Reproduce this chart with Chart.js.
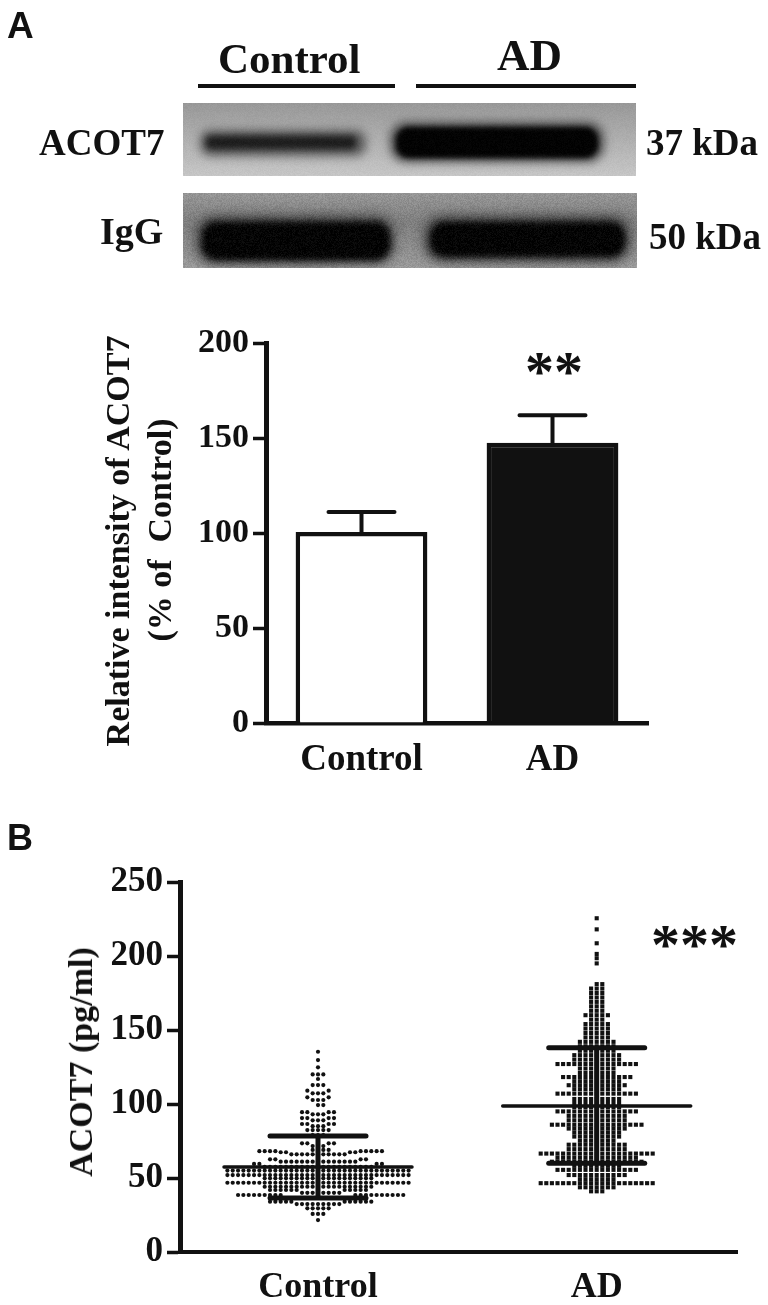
<!DOCTYPE html>
<html>
<head>
<meta charset="utf-8">
<title>ACOT7</title>
<script src="https://cdn.jsdelivr.net/npm/chart.js@4"></script>
<style>
html, body { margin: 0; padding: 0; background: #fff; }
#page { position: relative; width: 768px; height: 1305px; overflow: hidden; }
canvas { position: absolute; left: 0; }
.lbl { position: absolute; font-family: "Liberation Serif", serif; font-weight: bold; color: #111; white-space: nowrap; line-height: 1; }
.axis-title { position: absolute; font-family: "Liberation Serif", serif; font-weight: bold; font-size: 34px; color: #111; white-space: nowrap; line-height: 1; transform: translate(-50%, -50%) rotate(-90deg); z-index: 2; }
.letter { position: absolute; font-family: "Liberation Sans", sans-serif; font-weight: bold; color: #111; line-height: 1; }
.rule { position: absolute; height: 4px; background: #111; }
</style>
</head>
<body>
<div id="page">
  <canvas id="blot" width="768" height="290" style="top:0"></canvas>
  <canvas id="barChart" width="768" height="500" style="top:300px"></canvas>
  <canvas id="swarmChart" width="768" height="485" style="top:820px"></canvas>
  <div class="letter" style="left:7px;top:7px;font-size:37px">A</div>
  <div class="letter" style="left:7px;top:820px;font-size:36px">B</div>
  <div class="lbl" style="left:218px;top:37px;font-size:43px">Control</div>
  <div class="lbl" style="left:497px;top:33px;font-size:45px">AD</div>
  <div class="rule" style="left:198px;top:84px;width:197px"></div>
  <div class="rule" style="left:416px;top:84px;width:220px"></div>
  <div class="lbl" style="left:39px;top:124px;font-size:37px">ACOT7</div>
  <div class="lbl" style="left:100px;top:212px;font-size:38px">IgG</div>
  <div class="lbl" style="left:646px;top:124px;font-size:37px">37 kDa</div>
  <div class="lbl" style="left:649px;top:218px;font-size:37px">50 kDa</div>
  <div class="lbl" style="left:525px;top:343px;font-size:58px">**</div>
  <div class="lbl" style="left:651px;top:916px;font-size:58px">***</div>
  <div class="axis-title" style="left:118px;top:541px">Relative intensity of ACOT7</div>
  <div class="axis-title" style="left:160px;top:530px">(% of&nbsp; Control)</div>
  <div class="axis-title" style="left:81px;top:1062px">ACOT7 (pg/ml)</div>
</div>
<script>
const categories = ['Control', 'AD'];

// panel A
const barValues = [100.5, 147.5];
const barUpper = [111, 162];
const barTicks = [0, 50, 100, 150, 200];

// panel B, [level, how many points sit at that level]
const controlLevels = [
  [21.6, 1], [25.7, 3], [29.5, 5], [32.4, 9], [34, 11], [36.5, 13], [38.5, 19], [40, 8],
  [41.9, 11], [44.1, 21], [46.8, 35], [49.8, 21], [52, 35], [55, 35], [57.5, 21], [59.5, 4],
  [61, 15], [62.6, 4], [66, 11], [67.4, 4], [68.1, 9], [69, 4], [71.6, 3], [73.4, 4], [79, 3],
  [82.4, 5], [85, 3], [86.5, 4], [89, 3], [90.5, 4], [93, 3], [94.5, 4], [99.3, 2], [102.7, 3],
  [104.5, 2], [107.2, 3], [109, 2], [112.8, 3], [116.9, 1], [120, 3], [124.8, 1], [129.7, 1], [135.3, 1]
];
const adLevels = [
  [41, 3], [43.7, 7], [46.5, 21], [49.2, 7], [52, 11], [55.5, 15], [58.2, 9], [61, 17], [63.7, 15],
  [66.5, 21], [69.5, 11], [72.5, 11], [75.2, 7], [78, 9], [80.7, 9], [83.4, 11], [86, 17], [89, 11],
  [92, 11], [95, 15], [98, 9], [100.7, 9], [103.4, 9], [107, 15], [110, 9], [112.7, 11], [115.4, 9],
  [118.2, 13], [121, 7], [124, 7], [127, 15], [130, 9], [133, 9], [136, 7], [139, 7], [142, 7],
  [145, 5], [148, 5], [151, 5], [154, 5], [157, 3], [160, 5], [163, 3], [166, 3], [169, 3], [172, 3],
  [175, 3], [178, 3], [181, 2], [195, 1], [198.5, 1], [201.4, 1], [208.6, 1], [218, 1], [225.5, 1]
];
const meanValues = [57.4, 98.6];
const sdLow = [36.5, 60];
const sdHigh = [78.4, 138];

const INK = '#111';
const SERIF = '"Liberation Serif", serif';
const unitsPerPx = 1 / 278.7;

// prism style dot plot: columns on a grid, each point takes the nearest free column
function swarm(levels, center, stepPx, gap) {
    const columns = {};
    const pts = [];
    levels.forEach(([v, n]) => {
        for (let i = 0; i < n; i++) {
            for (let k = 0; ; k++) {
                const col = k === 0 ? 0 : (k % 2 ? (k + 1) / 2 : -k / 2);
                const used = columns[col] || (columns[col] = []);
                if (used.every(u => Math.abs(u - v) >= gap)) {
                    used.push(v);
                    pts.push({ x: center + col * stepPx * unitsPerPx, y: v });
                    break;
                }
            }
        }
    });
    return pts;
}

function hLine(center, halfPx, v, width) {
    return {
        type: 'line', borderColor: INK, borderWidth: width, pointRadius: 0, borderCapStyle: 'round',
        data: [{ x: center - halfPx * unitsPerPx, y: v }, { x: center + halfPx * unitsPerPx, y: v }]
    };
}

function vLine(center, lo, hi, width) {
    return {
        type: 'line', borderColor: INK, borderWidth: width, pointRadius: 0,
        data: [{ x: center, y: lo }, { x: center, y: hi }]
    };
}

// chart.js has no error bars, so this draws them from the value scale
const errorBars = {
    id: 'errorBars',
    afterDatasetsDraw(chart) {
        const { ctx, scales: { y } } = chart;
        const bars = chart.getDatasetMeta(0).data;
        ctx.save();
        ctx.strokeStyle = INK;
        ctx.lineWidth = 4;
        ctx.lineCap = 'round';
        bars.forEach((bar, i) => {
            const top = y.getPixelForValue(barUpper[i]);
            ctx.beginPath();
            ctx.moveTo(bar.x, y.getPixelForValue(barValues[i]));
            ctx.lineTo(bar.x, top);
            ctx.moveTo(bar.x - 33, top);
            ctx.lineTo(bar.x + 33, top);
            ctx.stroke();
        });
        ctx.restore();
    }
};

function valueAxis(max, ticks, widthPx, tickSize) {
    return {
        min: 0,
        max: max,
        afterFit: s => { s.width = widthPx; },
        afterBuildTicks: s => { s.ticks = ticks.map(v => ({ value: v })); },
        border: { display: true, width: 5, color: INK },
        grid: { drawOnChartArea: false, drawTicks: true, tickLength: 13, tickWidth: 3.5, tickColor: INK },
        ticks: { color: INK, padding: 4, font: { family: SERIF, weight: 'bold', size: tickSize } }
    };
}

new Chart(document.getElementById('barChart'), {
    type: 'bar',
    data: {
        labels: categories,
        datasets: [{
            data: barValues,
            backgroundColor: ['#fff', INK],
            borderColor: INK,
            borderWidth: 4.5,
            borderSkipped: 'bottom',
            barPercentage: 0.69,
            categoryPercentage: 1
        }]
    },
    options: {
        responsive: false,
        animation: false,
        layout: { padding: { top: 43, right: 120, left: 0, bottom: 0 } },
        plugins: { legend: { display: false }, tooltip: { enabled: false } },
        scales: {
            x: {
                afterFit: s => { s.height = 77; },
                border: { display: true, width: 4.5, color: INK },
                grid: { display: false, drawTicks: false },
                ticks: { color: INK, padding: 15, font: { family: SERIF, weight: 'bold', size: 37 } }
            },
            y: valueAxis(200, barTicks, 266, 34)
        }
    },
    plugins: [errorBars]
});

const groupX = [1, 2];
const swarmSets = [];
categories.forEach((name, i) => {
    swarmSets.push(hLine(groupX[i], 94, meanValues[i], 3.5));
    swarmSets.push(hLine(groupX[i], 48, sdHigh[i], 5));
    swarmSets.push(hLine(groupX[i], 48, sdLow[i], 5));
    swarmSets.push(vLine(groupX[i], sdLow[i], sdHigh[i], 5));
});
swarmSets.push({
    type: 'scatter', label: categories[0],
    data: swarm(controlLevels, groupX[0], 5.33, 2.1),
    pointStyle: 'circle', pointRadius: 2.1, pointBorderWidth: 0, pointBackgroundColor: INK
});
swarmSets.push({
    type: 'scatter', label: categories[1],
    data: swarm(adLevels, groupX[1], 5.6, 2.5),
    pointStyle: 'rect', pointRadius: 2.9, pointBorderWidth: 0, pointBackgroundColor: INK
});

new Chart(document.getElementById('swarmChart'), {
    type: 'scatter',
    data: { datasets: swarmSets },
    options: {
        responsive: false,
        animation: false,
        layout: { padding: { top: 62, right: 31, left: 0, bottom: 0 } },
        plugins: { legend: { display: false }, tooltip: { enabled: false } },
        scales: {
            x: {
                type: 'linear',
                min: 1 - 138 * unitsPerPx,
                max: 1 + 419 * unitsPerPx,
                afterFit: s => { s.height = 53; },
                afterBuildTicks: s => { s.ticks = groupX.map(v => ({ value: v })); },
                border: { display: true, width: 4, color: INK },
                grid: { display: false, drawTicks: false },
                ticks: {
                    color: INK, padding: 14, maxRotation: 0, autoSkip: false,
                    callback: v => categories[v - 1],
                    font: { family: SERIF, weight: 'bold', size: 36 }
                }
            },
            y: valueAxis(250, [0, 50, 100, 150, 200, 250], 180, 35)
        }
    }
});

// western blot strips, painted by hand since they are photographs, not data
function drawBlot() {
    const ctx = document.getElementById('blot').getContext('2d');
    function strip(x, y, w, h, stops, bands, grain) {
        ctx.save();
        ctx.beginPath();
        ctx.rect(x, y, w, h);
        ctx.clip();
        const g = ctx.createLinearGradient(0, y, 0, y + h);
        stops.forEach(([p, c]) => g.addColorStop(p, c));
        ctx.fillStyle = g;
        ctx.fillRect(x, y, w, h);
        bands.forEach(b => {
            ctx.filter = `blur(${b.blur}px)`;
            ctx.fillStyle = b.color;
            ctx.beginPath();
            ctx.roundRect(b.x, b.y, b.w, b.h, b.r);
            ctx.fill();
        });
        ctx.restore();
        // film grain
        const img = ctx.getImageData(x, y, w, h);
        for (let i = 0; i < img.data.length; i += 4) {
            const n = Math.sin(i * 12.9898) * 43758.5453;
            const d = (n - Math.floor(n) - 0.5) * grain;
            img.data[i] += d; img.data[i + 1] += d; img.data[i + 2] += d;
        }
        ctx.putImageData(img, x, y);
    }
    strip(183, 103, 453, 73, [[0, '#989898'], [0.35, '#a8a8a8'], [1, '#c6c6c6']], [
        { x: 200, y: 130, w: 166, h: 26, r: 10, blur: 5, color: '#5a5a5a' },
        { x: 206, y: 136, w: 150, h: 13, r: 5, blur: 3, color: '#1c1c1c' },
        { x: 390, y: 122, w: 214, h: 40, r: 16, blur: 5, color: '#4a4a4a' },
        { x: 396, y: 127, w: 202, h: 31, r: 13, blur: 2.5, color: '#030303' }
    ], 8);
    strip(183, 193, 454, 75, [[0, '#969696'], [0.4, '#7e7e7e'], [1, '#9a9a9a']], [
        { x: 196, y: 216, w: 198, h: 48, r: 18, blur: 6, color: '#404040' },
        { x: 424, y: 216, w: 206, h: 46, r: 18, blur: 6, color: '#404040' },
        { x: 202, y: 222, w: 188, h: 38, r: 15, blur: 3, color: '#040404' },
        { x: 430, y: 222, w: 195, h: 35, r: 15, blur: 3, color: '#040404' }
    ], 22);
}
drawBlot();
</script>
</body>
</html>
